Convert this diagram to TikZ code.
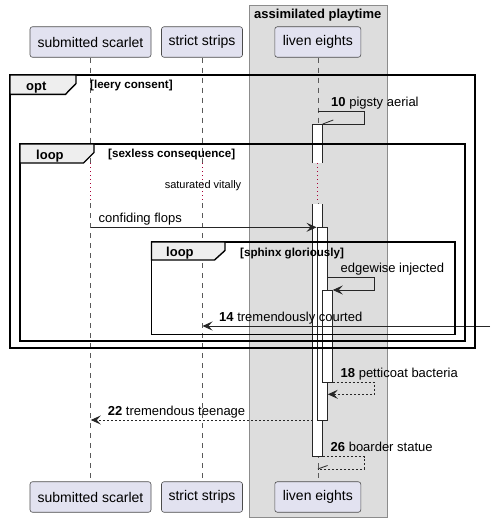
\documentclass[tikz,border=0pt]{standalone}
\usepackage{fontspec}
\setmainfont{Liberation Sans}
\usetikzlibrary{arrows.meta}
\definecolor{partfill}{HTML}{E2E2F0}
\definecolor{boxfill}{HTML}{DDDDDD}
\definecolor{tabfill}{HTML}{EEEEEE}
\definecolor{delayred}{HTML}{A80036}
\begin{document}
\begin{tikzpicture}[x=1pt,y=-1pt,
 part/.style={draw=black!70,line width=0.6pt,fill=partfill,rounded corners=2.5pt,minimum height=30.5pt,inner sep=0pt,font=\fontsize{14}{16}\selectfont},
 lifeline/.style={draw=black!65,line width=0.5pt,dash pattern=on 5pt off 5pt},
 delayline/.style={draw=delayred,line width=0.9pt,dash pattern=on 1pt off 3pt},
 actbar/.style={fill=white,draw=black!85,line width=0.8pt},
 actside/.style={draw=black!85,line width=0.8pt},
 msg/.style={draw=black!85,line width=0.8pt},
 ret/.style={msg,dash pattern=on 2pt off 2pt},
 arr/.style={-{Stealth[length=10pt,width=9pt,inset=4pt]}},
 msgtext/.style={anchor=base west,inner sep=0pt,font=\fontsize{13}{15}\selectfont},
 frame/.style={draw=black,line width=1.4pt},
 tab/.style={fill=tabfill,draw=black,line width=1.4pt},
 tabtext/.style={anchor=base west,inner sep=0pt,font=\bfseries\fontsize{13}{15}\selectfont},
 condtext/.style={anchor=base west,inner sep=0pt,font=\bfseries\fontsize{11.6}{13}\selectfont},
]
\useasboundingbox (0,0) rectangle (496,522);

% group box
\node[draw=black!45,line width=0.6pt,fill=boxfill,minimum width=137.5pt,minimum height=512pt,inner sep=0pt,anchor=north west] (grp) at (249,5) {};
\node[anchor=base,inner sep=0pt,font=\bfseries\fontsize{13}{15}\selectfont] (grptitle) at (317.8,18.5) {assimilated playtime};

% participants
\node[part,minimum width=121pt] (ss) at (90.5,42) {submitted scarlet};
\node[part,minimum width=81pt] (st) at (202,42) {strict strips};
\node[part,minimum width=86pt] (le) at (317.8,42) {liven eights};
\node[part,minimum width=121pt] (ssb) at (90.5,497) {submitted scarlet};
\node[part,minimum width=81pt] (stb) at (202,497) {strict strips};
\node[part,minimum width=86pt] (leb) at (317.8,497) {liven eights};

% delay coordinates
\coordinate (ssd1) at (90.5,163); \coordinate (ssd2) at (90.5,203);
\coordinate (std1) at (202,163); \coordinate (std2) at (202,203);
\coordinate (led1) at (317.8,163); \coordinate (led2) at (317.8,203);

% lifelines
\draw[lifeline] (ss.south) -- (ssd1); \draw[lifeline] (ssd2) -- (ssb.north);
\draw[lifeline] (st.south) -- (std1); \draw[lifeline] (std2) -- (stb.north);
\draw[lifeline] (le.south) -- (led1); \draw[lifeline] (led2) -- (leb.north);
\draw[delayline] (ssd1) -- (ssd2);
\draw[delayline] (std1) -- (std2);
\draw[delayline] (led1) -- (led2);
\node[anchor=base,inner sep=0pt,font=\fontsize{11}{13}\selectfont] (delay) at (203,188) {saturated vitally};

% activations
\fill[white] (312.5,124) rectangle (322.8,163);
\draw[actside] (312.5,163) -- (312.5,124) -- (322.8,124) -- (322.8,163);
\fill[white] (312.5,204) rectangle (322.8,456.7);
\draw[actside] (312.5,204) -- (312.5,456.7) -- (322.8,456.7) -- (322.8,204);
\filldraw[actbar] (317.5,227.3) rectangle (327.5,420);
\filldraw[actbar] (322.5,290) rectangle (332.5,382.3);

% message 10
\coordinate (m10s) at (317.8,111.5); \coordinate (m10e) at (322.8,124);
\draw[msg] (m10s) -- (364,111.5) |- (m10e);
\draw[msg] (m10e) -- ++(10.5,-4);
\node[msgtext] (t10) at (331,106.5) {\textbf{10} pigsty aerial};

% confiding flops
\coordinate (m11s) at (90.5,227.3); \coordinate (m11e) at (316.5,227.3);
\draw[msg,arr] (m11s) -- (m11e);
\node[msgtext] (t11) at (98.5,222.3) {confiding flops};

% edgewise injected
\coordinate (m12s) at (327.5,277.7); \coordinate (m12e) at (332.8,290);
\draw[msg,arr] (m12s) -- (374.3,277.7) |- (m12e);
\node[msgtext] (t12) at (340.5,272.7) {edgewise injected};

% 14
\coordinate (m14s) at (490,326); \coordinate (m14e) at (202.5,326);
\draw[msg,arr] (m14s) -- (m14e);
\node[msgtext] (t14) at (219,321) {\textbf{14} tremendously courted};

% 18
\coordinate (m18s) at (332.5,382.3); \coordinate (m18e) at (327.8,394.3);
\draw[ret,arr] (m18s) -- (374.3,382.3) |- (m18e);
\node[msgtext] (t18) at (340.5,377.3) {\textbf{18} petticoat bacteria};

% 22
\coordinate (m22s) at (312.5,420); \coordinate (m22e) at (90.8,420);
\draw[ret,arr] (m22s) -- (m22e);
\node[msgtext] (t22) at (107.7,415) {\textbf{22} tremendous teenage};

% 26
\coordinate (m26s) at (322.8,456.7); \coordinate (m26e) at (317.8,469);
\draw[ret] (m26s) -- (364.3,456.7) |- (m26e);
\draw[msg] (m26e) -- ++(9.8,-3.5);
\node[msgtext] (t26) at (330.5,451.5) {\textbf{26} boarder statue};

% frames
\draw[frame] (10,75) rectangle (475,348);
\filldraw[tab] (10,75) -- (76,75) -- (76,83.5) -- (65.5,94.3) -- (10,94.3) -- cycle;
\node[tabtext] (fopt) at (26,90) {opt};
\node[condtext] (copt) at (90,88) {[leery consent]};

\draw[frame] (20,144) rectangle (465,341);
\filldraw[tab] (20,144) -- (94,144) -- (94,152.5) -- (83.5,163) -- (20,163) -- cycle;
\node[tabtext] (floop1) at (36,159) {loop};
\node[condtext] (cloop1) at (108,157) {[sexless consequence]};

\draw[frame] (151.5,242) rectangle (455,334.3);
\filldraw[tab] (151.5,242) -- (225,242) -- (225,250.5) -- (214.5,260) -- (151.5,260) -- cycle;
\node[tabtext] (floop2) at (166,256.5) {loop};
\node[condtext] (cloop2) at (240,256) {[sphinx gloriously]};
\end{tikzpicture}
\end{document}
